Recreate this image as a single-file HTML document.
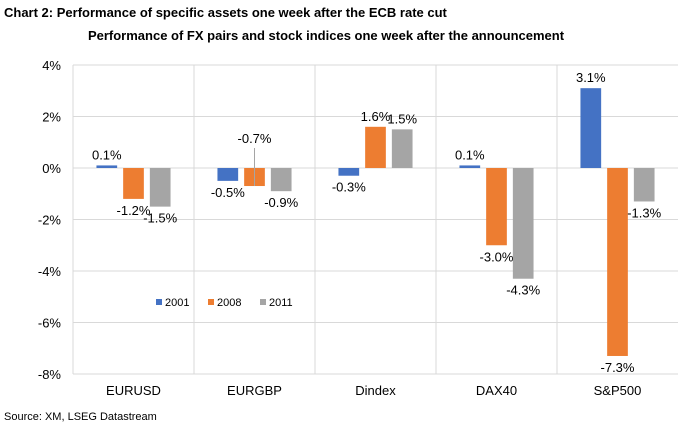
<!DOCTYPE html>
<html><head><meta charset="utf-8"><style>
body{margin:0;background:#fff;width:689px;height:433px;overflow:hidden;font-family:"Liberation Sans",Arial,sans-serif}
</style></head><body>
<svg id="c" width="689" height="433" xmlns="http://www.w3.org/2000/svg">
<text x="4" y="17" font-size="13" font-weight="bold" fill="#000">Chart 2: Performance of specific assets one week after the ECB rate cut</text>
<text x="326" y="40" text-anchor="middle" font-size="13" font-weight="bold" fill="#000">Performance of FX pairs and stock indices one week after the announcement</text>
<text x="4" y="420" font-size="11" fill="#000">Source: XM, LSEG Datastream</text>
<g id="plot"></g>
</svg>
<script>
const categories=["EURUSD","EURGBP","Dindex","DAX40","S&P500"];
const series=["2001","2008","2011"];
const v2001=[0.1,-0.5,-0.3,0.1,3.1];
const v2008=[-1.2,-0.7,1.6,-3.0,-7.3];
const v2011=[-1.5,-0.9,1.5,-4.3,-1.3];
const yTicks=[4,2,0,-2,-4,-6,-8];
const colors=["#4472C4","#ED7D31","#A5A5A5"];
const vals=[v2001,v2008,v2011];
const NS="http://www.w3.org/2000/svg";
const g=document.getElementById("plot");
const L=73,R=678,T=65,B=374,yMax=4,yMin=-8;
const y=v=>T+(yMax-v)/(yMax-yMin)*(B-T);
const cw=(R-L)/categories.length;
const x=i=>L+cw*i;
function mk(t,a){const e=document.createElementNS(NS,t);for(const k in a)e.setAttribute(k,a[k]);g.appendChild(e);return e;}
yTicks.forEach(t=>{
 const l=mk("line",{x1:L,x2:R,y1:y(t),y2:y(t),stroke:"#d9d9d9","stroke-width":1});
 
 
 const tx=mk("text",{x:L-12,y:y(t)+5,"text-anchor":"end","font-size":13,fill:"#000"});
 tx.textContent=t+"%";
 
 
});
for(let i=0;i<categories.length;i++){
 const l=mk("line",{x1:x(i),x2:x(i),y1:T,y2:B,stroke:"#d9d9d9","stroke-width":1});
 
 
}
const bw=20.7,pitch=26.7;
categories.forEach((c,i)=>{
 const cx=x(i)+cw/2;
 const ct=mk("text",{x:cx,y:395,"text-anchor":"middle","font-size":13,fill:"#000"});
 ct.textContent=c;
 
 
 vals.forEach((arr,s)=>{
  const v=arr[i];
  const bx=cx+(s-1)*pitch-bw/2;
  const y0=y(0),y1=y(v);
  const r=mk("rect",{x:bx,y:Math.min(y0,y1),width:bw,height:Math.max(1,Math.abs(y1-y0)),fill:colors[s]});
  
  
  let ly=v>=0?y1-6:y1+16;
  const special=(i===1&&s===1);
  if(special){ly=y0-25;const ll=mk("line",{x1:bx+bw/2,x2:bx+bw/2,y1:y0-20,y2:y1,stroke:"#a5a5a5"});}
  const lt=mk("text",{x:bx+bw/2,y:ly,"text-anchor":"middle","font-size":13,fill:"#000"});
  lt.textContent=v.toFixed(1)+"%";
  
  
 });
});
series.forEach((s,k)=>{
 const lx=156+k*52;
 const sq=mk("rect",{x:lx,y:299,width:6,height:6,fill:colors[k]});
 
 
 const t=mk("text",{x:lx+9,y:306,"font-size":11,fill:"#000"});
 t.textContent=s;
 
 
});
</script>
</body></html>
